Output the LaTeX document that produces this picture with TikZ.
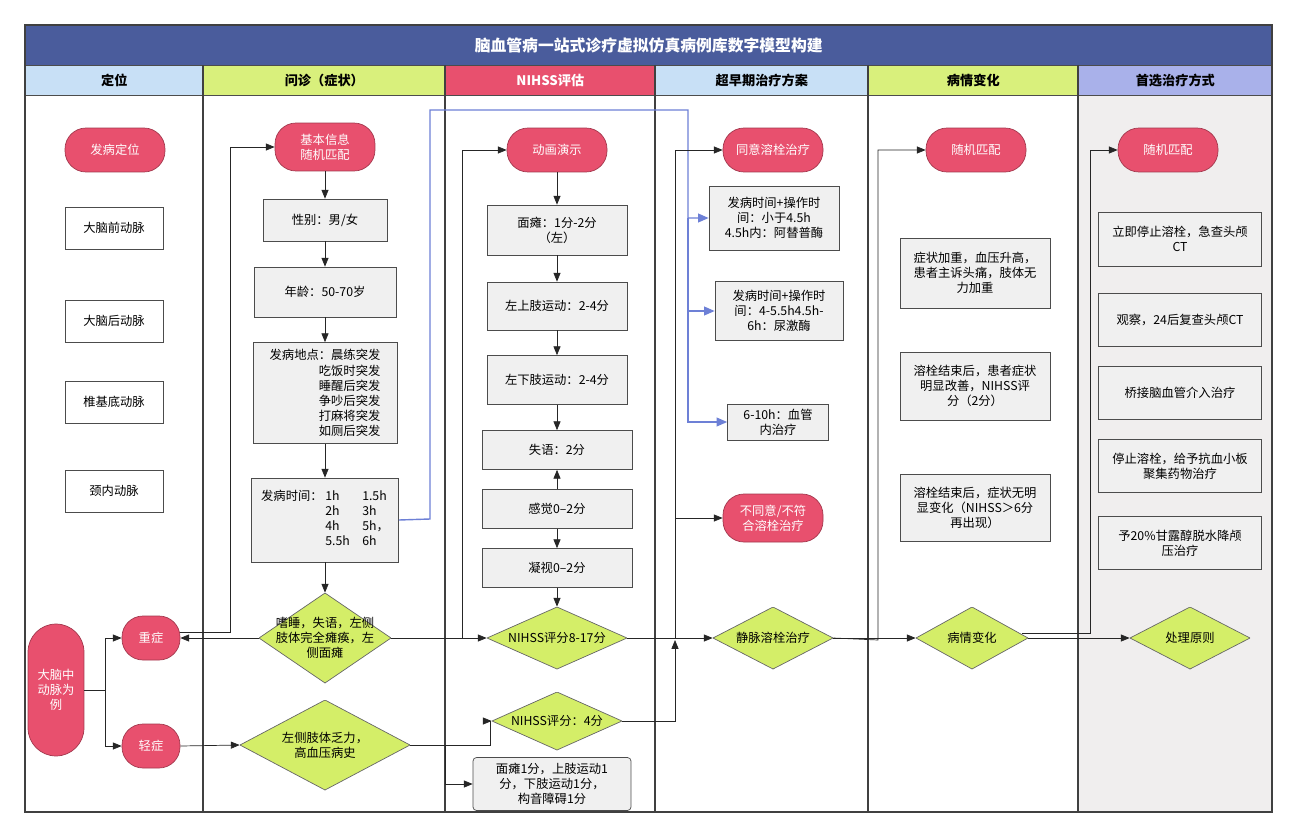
\documentclass[tikz,border=0pt]{standalone}
\usepackage{fontspec}
\setmainfont{Noto Sans CJK SC}
\usetikzlibrary{arrows.meta, shapes.geometric, calc}
\definecolor{titlebg}{HTML}{4A5C9C}
\definecolor{hblue}{HTML}{C8E0F6}
\definecolor{hgreen}{HTML}{D9F07C}
\definecolor{hpink}{HTML}{E8506E}
\definecolor{hlav}{HTML}{A9B1EA}
\definecolor{dgreen}{HTML}{D4EE68}
\definecolor{lastcol}{HTML}{F0EEEE}
\definecolor{bluearr}{HTML}{6D80D6}
\begin{document}
\begin{tikzpicture}[x=0.02cm, y=-0.02cm, font=\fontsize{7}{8.6}\selectfont,
	pinkbox/.style={draw=hpink!70!black, fill=hpink, text=white, rounded corners=0.42cm, minimum width=2cm, minimum height=0.88cm, align=center, inner sep=1pt},
	graybox/.style={draw=black!70, fill=black!6, align=center, inner sep=1pt},
	whitebox/.style={draw=black!70, fill=white, align=center, inner sep=1pt, minimum width=1.96cm, minimum height=0.84cm},
	choice/.style={align=center, inner sep=0pt, path picture={
		\filldraw[fill=dgreen, draw=black!60] (path picture bounding box.north) -- (path picture bounding box.east) -- (path picture bounding box.south) -- (path picture bounding box.west) -- cycle;}},
	link/.style={draw=black!85, -{Triangle[length=5pt,width=4pt]}},
	bluelink/.style={draw=bluearr, thick, -{Triangle[length=6pt,width=5pt]}},
	hdr/.style={draw=black!70, minimum height=0.6cm, font=\fontsize{7.5}{9}\selectfont\bfseries},
	]
	\useasboundingbox (0,0) rectangle (1297,838);
	% lanes
	\fill[lastcol] (1078,95) rectangle (1272,812);
	\node[draw=black!70, fill=titlebg, text=white, minimum width=24.94cm, minimum height=0.8cm, anchor=north west, font=\fontsize{9}{11}\selectfont\bfseries] (title) at (25,25) {脑血管病一站式诊疗虚拟仿真病例库数字模型构建};
	\node[hdr, fill=hblue, minimum width=3.56cm, anchor=north west] (h1) at (25,65) {定位};
	\node[hdr, fill=hgreen, minimum width=4.84cm, anchor=north west] (h2) at (203,65) {问诊（症状）};
	\node[hdr, fill=hpink, text=white, minimum width=4.2cm, anchor=north west] (h3) at (445,65) {NIHSS评估};
	\node[hdr, fill=hblue, minimum width=4.26cm, anchor=north west] (h4) at (655,65) {超早期治疗方案};
	\node[hdr, fill=hgreen, minimum width=4.2cm, anchor=north west] (h5) at (868,65) {病情变化};
	\node[hdr, fill=hlav, minimum width=3.88cm, anchor=north west] (h6) at (1078,65) {首选治疗方式};
	\foreach \x in {203,445,655,868} \draw[black!75, thick] (\x,65) -- (\x,812);
	\draw[black!75, very thick] (1078,65) -- (1078,812);
	\draw[black!75, thick] (25,25) rectangle (1272,812);

	% column 1
	\node[pinkbox] (onset) at (115,150) {发病定位};
	\node[whitebox] (aca) at (114,228) {大脑前动脉};
	\node[whitebox] (pca) at (114,321) {大脑后动脉};
	\node[whitebox] (vba) at (114,402) {椎基底动脉};
	\node[whitebox] (ica) at (114,491) {颈内动脉};
	\node[pinkbox, rounded corners=0.56cm, minimum width=1.12cm, minimum height=2.64cm] (mca) at (56,690) {大脑中\\动脉为\\例};
	\node[pinkbox, minimum width=1.16cm] (severe) at (151,638) {重症};
	\node[pinkbox, minimum width=1.16cm] (mild) at (151,746) {轻症};

	% column 2
	\node[pinkbox, minimum height=0.96cm] (basic) at (325,147) {基本信息\\随机匹配};
	\node[graybox, minimum width=2.48cm, minimum height=0.84cm] (sex) at (325,220) {性别：男/女};
	\node[graybox, minimum width=2.84cm, minimum height=1cm] (age) at (325,292) {年龄：50-70岁};
	\node[graybox, minimum width=2.88cm, minimum height=2.02cm, align=right] (place) at (325,393) {发病地点：晨练突发\\吃饭时突发\hspace{3.2em}\\睡醒后突发\\争吵后突发\\打麻将突发\\如厕后突发};
	\node[graybox, minimum width=2.94cm, minimum height=1.68cm] (time) at (325,520) {\begin{tabular}{@{}l@{\ }l@{\quad}l@{}}发病时间：&1h&1.5h\\&2h&3h\\&4h&5h，\\&5.5h&6h\end{tabular}};
	\node[choice, minimum width=2.64cm, minimum height=1.8cm] (sym1) at (325,638) {嗜睡，失语，左侧\\肢体完全瘫痪，左\\侧面瘫};
	\node[choice, minimum width=3.4cm, minimum height=1.8cm] (sym2) at (325,745) {左侧肢体乏力，\\高血压病史};

	% column 3
	\node[pinkbox] (anim) at (557,150) {动画演示};
	\node[graybox, minimum width=2.8cm, minimum height=1cm] (face) at (557,230) {面瘫：1分-2分\\（左）};
	\node[graybox, minimum width=2.8cm, minimum height=0.96cm] (arm) at (557,306) {左上肢运动：2-4分};
	\node[graybox, minimum width=2.8cm, minimum height=0.98cm] (leg) at (557,380) {左下肢运动：2-4分};
	\node[graybox, minimum width=3cm, minimum height=0.78cm] (aph) at (557,450) {失语：2分};
	\node[graybox, minimum width=3cm, minimum height=0.78cm] (sens) at (557,509) {感觉0–2分};
	\node[graybox, minimum width=3cm, minimum height=0.78cm] (gaze) at (557,568) {凝视0–2分};
	\node[choice, minimum width=2.8cm, minimum height=1.24cm] (nih1) at (557,638) {NIHSS评分8-17分};
	\node[choice, minimum width=2.6cm, minimum height=1.16cm] (nih2) at (557,721) {NIHSS评分：4分};
	\node[graybox, rounded corners=2pt, minimum width=3.16cm, minimum height=1.06cm] (score) at (552,784) {面瘫1分，上肢运动1\\分，下肢运动1分，\\构音障碍1分};

	% column 4
	\node[pinkbox] (agree) at (773,150) {同意溶栓治疗};
	\node[graybox, minimum width=2.6cm, minimum height=1.28cm] (t1) at (774,218) {发病时间+操作时\\间：小于4.5h\\4.5h内：阿替普酶};
	\node[graybox, minimum width=2.56cm, minimum height=1.18cm] (t2) at (779,311) {发病时间+操作时\\间：4-5.5h4.5h-\\6h：尿激酶};
	\node[graybox, minimum width=2.02cm, minimum height=0.72cm] (t3) at (778,422) {6-10h：血管\\内治疗};
	\node[pinkbox, minimum height=0.96cm] (refuse) at (773,518) {不同意/不符\\合溶栓治疗};
	\node[choice, minimum width=2.4cm, minimum height=1.24cm] (ivt) at (773,638) {静脉溶栓治疗};

	% column 5
	\node[pinkbox] (rand1) at (976,150) {随机匹配};
	\node[graybox, minimum width=3cm, minimum height=1.4cm] (c1) at (975,273) {症状加重，血压升高，\\患者主诉头痛，肢体无\\力加重};
	\node[graybox, minimum width=3cm, minimum height=1.36cm] (c2) at (975,386) {溶栓结束后，患者症状\\明显改善，NIHSS评\\分（2分）};
	\node[graybox, minimum width=3cm, minimum height=1.34cm] (c3) at (975,508) {溶栓结束后，症状无明\\显变化（NIHSS＞6分\\再出现）};
	\node[choice, minimum width=2.24cm, minimum height=1.24cm] (chg) at (972,638) {病情变化};

	% column 6
	\node[pinkbox] (rand2) at (1168,150) {随机匹配};
	\node[graybox, minimum width=3.26cm, minimum height=1.08cm] (r1) at (1180,239) {立即停止溶栓，急查头颅\\CT};
	\node[graybox, minimum width=3.26cm, minimum height=1.06cm] (r2) at (1180,320) {观察，24后复查头颅CT};
	\node[graybox, minimum width=3.26cm, minimum height=1.06cm] (r3) at (1180,393) {桥接脑血管介入治疗};
	\node[graybox, minimum width=3.26cm, minimum height=1.06cm] (r4) at (1180,466) {停止溶栓，给予抗血小板\\聚集药物治疗};
	\node[graybox, minimum width=3.26cm, minimum height=1.06cm] (r5) at (1180,543) {予20\%甘露醇脱水降颅\\压治疗};
	\node[choice, minimum width=2.4cm, minimum height=1.24cm] (rule) at (1190,638) {处理原则};

	% connectors
	\draw[link] (mca.east) -- ++(21,0) |- (severe.west);
	\draw[link] (mca.east) -- ++(21,0) |- (mild.west);
	\draw[link] (sym1.west) -- (severe.east);
	\draw[link] (severe.east) ++(0,-6) -- (230,632) |- (basic.west);
	\draw[link] (mild.east) -- (sym2.west);
	\foreach \a/\b in {basic/sex, sex/age, age/place, place/time, time/sym1, anim/face, face/arm, arm/leg, leg/aph, sens/gaze, gaze/nih1}
		\draw[link] (\a) -- (\b);
	\draw[link] (sens) -- (aph);
	\draw[link] (sym1.east) -- (nih1.west);
	\draw[link] (462,638) |- (anim.west);
	\draw[link] (sym2.east) -- (490,745) |- (nih2.west);
	\draw[link] (445,745) |- (score.west);
	\draw[bluelink] (time.east) -- (430,519) |- (688,110) |- (t1.west);
	\draw[bluelink] (688,218) |- (t2.west);
	\draw[bluelink] (688,311) |- (t3.west);
	\draw[link] (nih1.east) -- (ivt.west);
	\draw[link] (nih2.east) -| (675,640);
	\draw[link] (675,638) |- (agree.west);
	\draw[link] (675,600) |- (refuse.west);
	\draw[link] (ivt.east) -- (878,640) |- (rand1.west);
	\draw[link] (ivt.east) -- (chg.west);
	\draw[link] (chg.east) ++(-6,-5) -- (1090,633) |- (rand2.west);
	\draw[link] (chg.east) -- (rule.west);
\end{tikzpicture}
\end{document}
